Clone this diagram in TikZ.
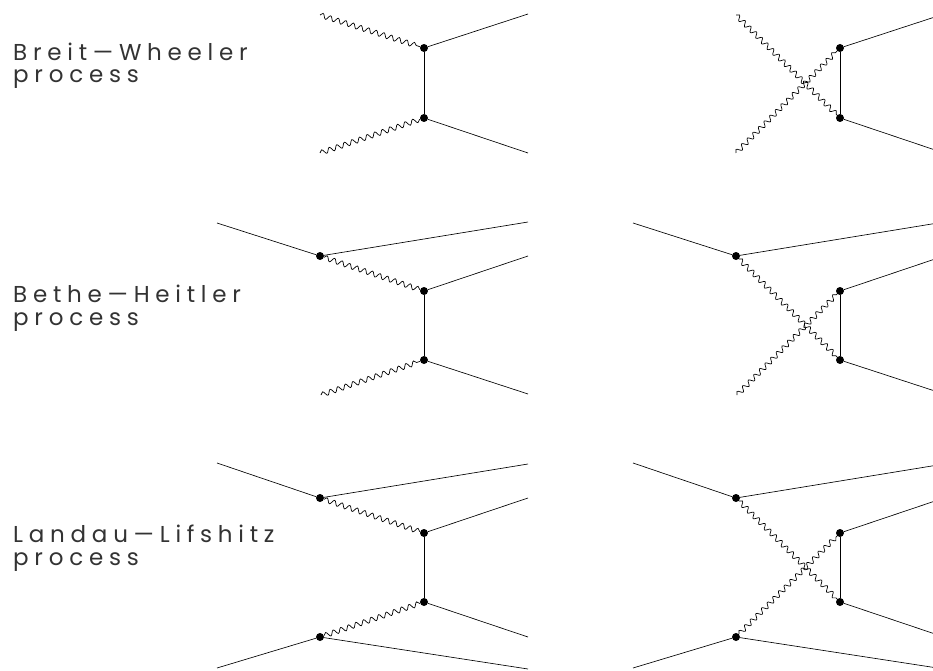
\documentclass[tikz,border=0pt]{standalone}
\usepackage{fontspec}
\newfontfamily\lblfont[LetterSpace=25]{Poppins}
\usetikzlibrary{decorations.pathmorphing}
\tikzset{
  fermion/.style={line width=0.65pt},
  photon/.style={line width=0.7pt, decorate,
    decoration={snake, segment length=8pt, amplitude=2.5pt}},
  vtx/.style={circle, fill=black, inner sep=0pt, minimum size=8pt},
  lbl/.style={font=\lblfont\fontsize{23}{22.5}\selectfont, anchor=base west,
    align=left, inner sep=0pt, text=black!80},
}
\begin{document}
\begin{tikzpicture}[x=1pt,y=-1pt]
\clip (0,0) rectangle (933,671);
\fill[white] (0,0) rectangle (933,671);
% labels (anchor = baseline of the last line)
\node[lbl] (t1) at (13,83) {Breit—Wheeler\\process};
\node[lbl] (t3) at (13,325) {Bethe—Heitler\\process};
\node[lbl] (t5) at (13,565) {Landau—Lifshitz\\process};
% row 1 direct
\coordinate (a1) at (320,15); \coordinate (a2) at (320,153);
\node[vtx] (a3) at (424,48) {}; \node[vtx] (a4) at (424,118) {};
\coordinate (a5) at (528,14); \coordinate (a6) at (528,153);
\draw[photon] (a1) -- (a3); \draw[photon] (a2) -- (a4);
\draw[fermion] (a3) -- (a4); \draw[fermion] (a3) -- (a5); \draw[fermion] (a4) -- (a6);
% row 1 crossed
\coordinate (b1) at (736,15); \coordinate (b2) at (736,153);
\node[vtx] (b3) at (840,48) {}; \node[vtx] (b4) at (840,118) {};
\coordinate (b5) at (944,14); \coordinate (b6) at (944,153);
\draw[photon] (b1) -- (b4); \draw[photon] (b2) -- (b3);
\draw[fermion] (b3) -- (b4); \draw[fermion] (b3) -- (b5); \draw[fermion] (b4) -- (b6);
% row 2 direct
\coordinate (c1) at (217,223); \node[vtx] (c2) at (320,256) {};
\coordinate (c3) at (528,222); \node[vtx] (c4) at (424,291) {};
\coordinate (c5) at (528,256); \node[vtx] (c6) at (424,360) {};
\coordinate (c7) at (528,394); \coordinate (c8) at (321,395);
\draw[fermion] (c1) -- (c2); \draw[fermion] (c2) -- (c3);
\draw[photon] (c2) -- (c4);
\draw[fermion] (c4) -- (c5); \draw[fermion] (c4) -- (c6); \draw[fermion] (c6) -- (c7);
\draw[photon] (c8) -- (c6);
% row 2 crossed
\coordinate (d1) at (633,223); \node[vtx] (d2) at (736,256) {};
\coordinate (d3) at (944,222); \node[vtx] (d4) at (840,291) {};
\coordinate (d5) at (944,256); \node[vtx] (d6) at (840,360) {};
\coordinate (d7) at (944,394); \coordinate (d8) at (737,395);
\draw[fermion] (d1) -- (d2); \draw[fermion] (d2) -- (d3);
\draw[photon] (d2) -- (d6);
\draw[fermion] (d4) -- (d5); \draw[fermion] (d4) -- (d6); \draw[fermion] (d6) -- (d7);
\draw[photon] (d8) -- (d4);
% row 3 direct
\coordinate (e1) at (217,463); \node[vtx] (e2) at (320,498) {};
\coordinate (e3) at (528,464); \node[vtx] (e4) at (424,533) {};
\coordinate (e5) at (528,498); \node[vtx] (e6) at (424,602) {};
\coordinate (e7) at (528,637); \node[vtx] (e8) at (320,637) {};
\coordinate (e9) at (217,668); \coordinate (e10) at (528,669);
\draw[fermion] (e1) -- (e2); \draw[fermion] (e2) -- (e3);
\draw[photon] (e2) -- (e4);
\draw[fermion] (e4) -- (e5); \draw[fermion] (e4) -- (e6); \draw[fermion] (e6) -- (e7);
\draw[photon] (e8) -- (e6);
\draw[fermion] (e9) -- (e8); \draw[fermion] (e8) -- (e10);
% row 3 crossed
\coordinate (f1) at (633,463); \node[vtx] (f2) at (736,498) {};
\coordinate (f3) at (944,464); \node[vtx] (f4) at (840,533) {};
\coordinate (f5) at (944,498); \node[vtx] (f6) at (840,602) {};
\coordinate (f7) at (944,637); \node[vtx] (f8) at (736,637) {};
\coordinate (f9) at (633,668); \coordinate (f10) at (944,669);
\draw[fermion] (f1) -- (f2); \draw[fermion] (f2) -- (f3);
\draw[photon] (f2) -- (f6);
\draw[fermion] (f4) -- (f5); \draw[fermion] (f4) -- (f6); \draw[fermion] (f6) -- (f7);
\draw[photon] (f8) -- (f4);
\draw[fermion] (f9) -- (f8); \draw[fermion] (f8) -- (f10);
\end{tikzpicture}
\end{document}
